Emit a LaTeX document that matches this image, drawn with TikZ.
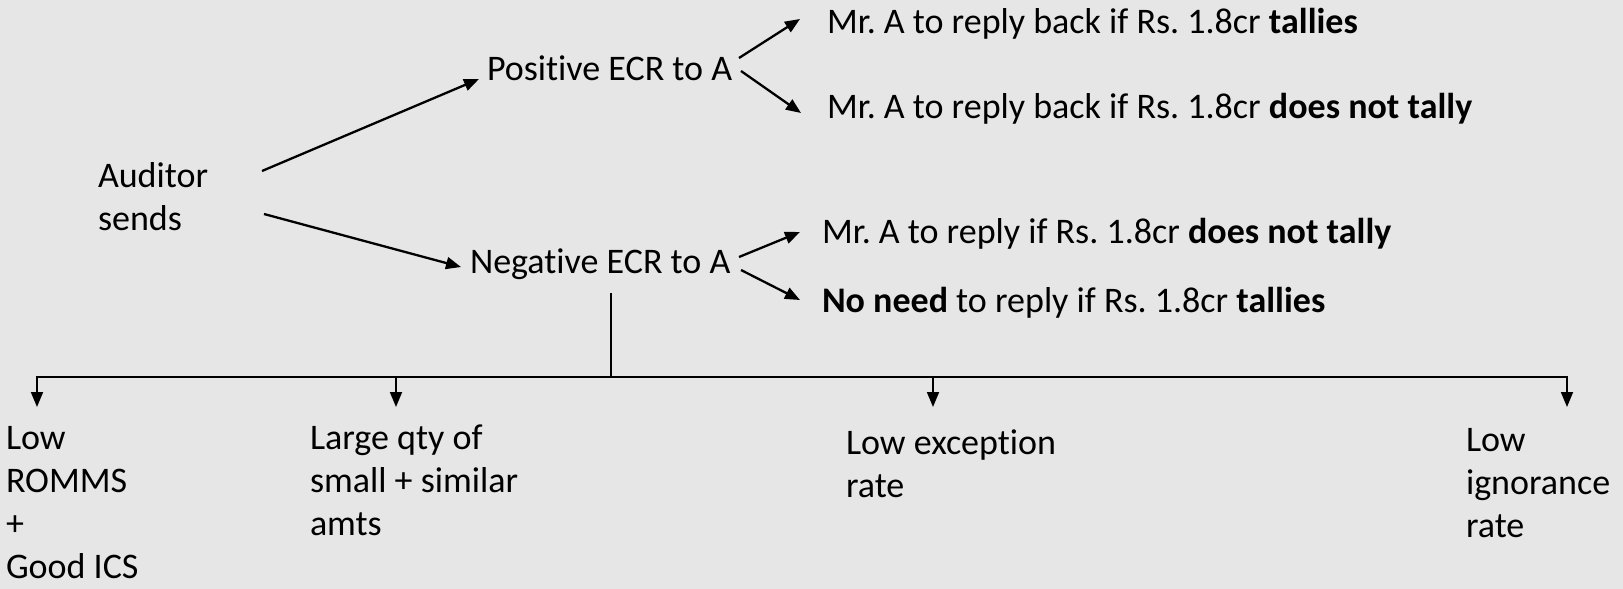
\documentclass[tikz,border=0pt]{standalone}
\usepackage{fontspec}
\setmainfont{Carlito}[Ligatures=NoCommon]
\usetikzlibrary{arrows.meta,calc}
\definecolor{bg}{HTML}{E7E6E6}
\frenchspacing
\begin{document}
\begin{tikzpicture}[x=1pt,y=-1pt,
  lbl/.style={anchor=base west,inner sep=0pt,outer sep=0pt,align=left,
    font=\fontsize{36}{42.7}\selectfont},
  arr/.style={line width=2.3pt,-{Triangle[length=15pt,width=12pt]}},
  stem/.style={line width=1.3pt},
  bar/.style={line width=1.8pt,-{Triangle[length=15pt,width=12pt]}}]
% page and background
\fill[bg] (0,0) rectangle (1623,589);
\useasboundingbox (0,0) rectangle (1623,589);

% labels (multi-line labels sit on the baseline of their last line)
\node[lbl] (aud) at (98,230) {Auditor\\sends};
\node[lbl] (pos) at (487,80) {Positive ECR to A};
\node[lbl] (neg) at (470,273) {Negative ECR to A};
\node[lbl] (r1) at (827,33) {Mr. A to reply back if Rs. 1.8cr \textbf{tallies}};
\node[lbl] (r2) at (827,118) {Mr. A to reply back if Rs. 1.8cr \textbf{does not tally}};
\node[lbl] (r3) at (822,243) {Mr. A to reply if Rs. 1.8cr \textbf{does not tally}};
\node[lbl] (r4) at (822,312) {\textbf{No need} to reply if Rs. 1.8cr \textbf{tallies}};
\node[lbl] (b1) at (6,578) {Low\\ROMMS\\+\\Good ICS};
\node[lbl] (b2) at (310,535) {Large qty of\\small + similar\\amts};
\node[lbl] (b3) at (846,497) {Low exception\\rate};
\node[lbl] (b4) at (1466,537) {Low\\ignorance\\rate};

% auditor to the two kinds of confirmation
\draw[arr] ($(aud.base west)+(164,-59)$) -- ($(pos.base west)+(-8,-1)$);
\draw[arr] ($(aud.base west)+(166,-16)$) -- ($(neg.base west)+(-9,-6)$);

% outcomes of a positive request
\draw[arr] ($(pos.base west)+(252,-22)$) -- ($(r1.base west)+(-27,-14)$);
\draw[arr] ($(pos.base west)+(254,-9)$) -- ($(r2.base west)+(-26,-5)$);

% outcomes of a negative request
\draw[arr] ($(neg.base west)+(269,-16)$) -- ($(r3.base west)+(-22,-11)$);
\draw[arr] ($(neg.base west)+(271,-3)$) -- ($(r4.base west)+(-22,-12)$);

% conditions for a negative request
\coordinate (hub) at (611,377);
\draw[stem] ($(neg.base west)+(141,20)$) -- (hub);
\draw[bar] (hub) -| ($(b1.base west)+(31,-171)$);
\draw[bar] (hub) -| ($(b2.base west)+(86,-128)$);
\draw[bar] (hub) -| ($(b3.base west)+(87,-90)$);
\draw[bar] (hub) -| ($(b4.base west)+(101,-130)$);
\end{tikzpicture}
\end{document}
